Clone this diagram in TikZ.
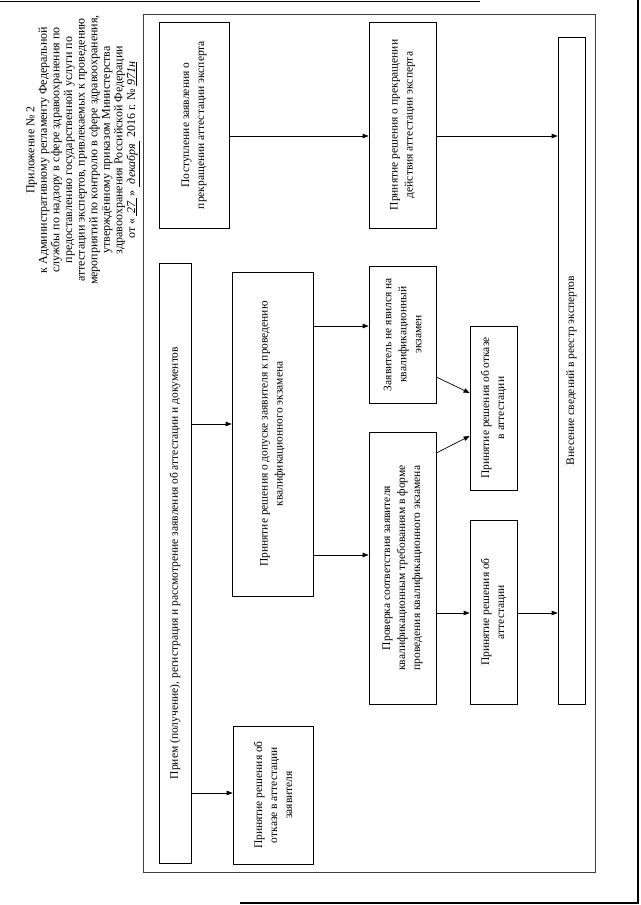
\documentclass[tikz,border=0pt]{standalone}
\usepackage{fontspec}
\setmainfont{Liberation Serif}
\usetikzlibrary{arrows.meta}
\newcommand\mybox[6]{%
  \node[box, minimum width={#4pt-#2pt}, minimum height={#5pt-#3pt}]
    (#1) at ({(#2+#4)/2},{(#3+#5)/2})
    {\rotatebox{90}{\parbox{\dimexpr#5pt-#3pt-8pt\relax}{\centering\fontsize{11.5}{15}\selectfont #6}}};}
\tikzset{
  box/.style={draw=black, line width=0.7pt, inner sep=0pt, rectangle},
  arr/.style={-{Triangle[length=6pt,width=4.5pt]}, line width=0.7pt},
}
\begin{document}
\begin{tikzpicture}[x=1pt,y=-1pt]
\useasboundingbox (0,0) rectangle (640,905);
\fill[white] (0,0) rectangle (640,905);
% page edges of the scan
\draw[line width=1pt] (0,1) -- (480,1);
\draw[line width=1.2pt] (638,0) -- (638,903) -- (240,903);
% header
\node[inner sep=0pt] (hdr) at (83,150) {\rotatebox{90}{\parbox{300pt}{\centering\fontsize{12}{12.6}\selectfont
Приложение № 2\\
к Административному регламенту Федеральной\\
службы по надзору в сфере здравоохранения по\\
предоставлению государственной услуги по\\
аттестации экспертов, привлекаемых к проведению\\
мероприятий по контролю в сфере здравоохранения,\\
утверждённому приказом Министерства\\
здравоохранения Российской Федерации\\
от «\,\underline{\itshape\ 27\ }\,» \underline{\itshape\ декабря\ }\ 2016 г. № \underline{\itshape 971н}}}};
% frame
\node[draw=black!75, line width=0.8pt, inner sep=0pt, minimum width=452pt, minimum height=858pt] (frame) at (369,443) {};
% boxes
\mybox{b1}{159}{263}{191}{863}{Прием (получение), регистрация и рассмотрение заявления об аттестации и документов}
\mybox{b2}{232}{272}{313}{596}{Принятие решения о допуске заявителя к проведению\\ квалификационного экзамена}
\mybox{b3}{233}{726}{313}{864}{Принятие решения об\\ отказе в аттестации\\ заявителя}
\mybox{b4}{159}{22}{229}{228}{Поступление заявления о\\ прекращении аттестации эксперта}
\mybox{b5}{369}{22}{436}{228}{Принятие решения о прекращении\\ действия аттестации эксперта}
\mybox{b6}{369}{266}{436}{403}{Заявитель не явился на\\ квалификационный\\ экзамен}
\mybox{b7}{369}{432}{436}{704}{Проверка соответствия заявителя\\ квалификационным требованиям в форме\\ проведения квалификационного экзамена}
\mybox{b8}{470}{326}{517}{490}{Принятие решения об отказе\\ в аттестации}
\mybox{b9}{470}{520}{517}{704}{Принятие решения об\\ аттестации}
\mybox{b10}{558}{37}{585}{704}{Внесение сведений в реестр экспертов}
% connectors
\draw[arr] (b4.east |- 0,136) -- (b5.west |- 0,136);
\draw[arr] (b5.east |- 0,136) -- (b10.west |- 0,136);
\draw[arr] (b1.east |- 0,424) -- (b2.west |- 0,424);
\draw[arr] (b1.east |- 0,793) -- (b3.west |- 0,793);
\draw[arr] (b2.east |- 0,326) -- (b6.west |- 0,326);
\draw[arr] (b2.east |- 0,555) -- (b7.west |- 0,555);
\draw[arr] (b6.east |- 0,377) -- (b8.west |- 0,393);
\draw[arr] (b7.east |- 0,453) -- (b8.west |- 0,436);
\draw[arr] (b7.east |- 0,613) -- (b9.west |- 0,613);
\draw[arr] (b9.east |- 0,613) -- (b10.west |- 0,613);
\end{tikzpicture}
\end{document}
